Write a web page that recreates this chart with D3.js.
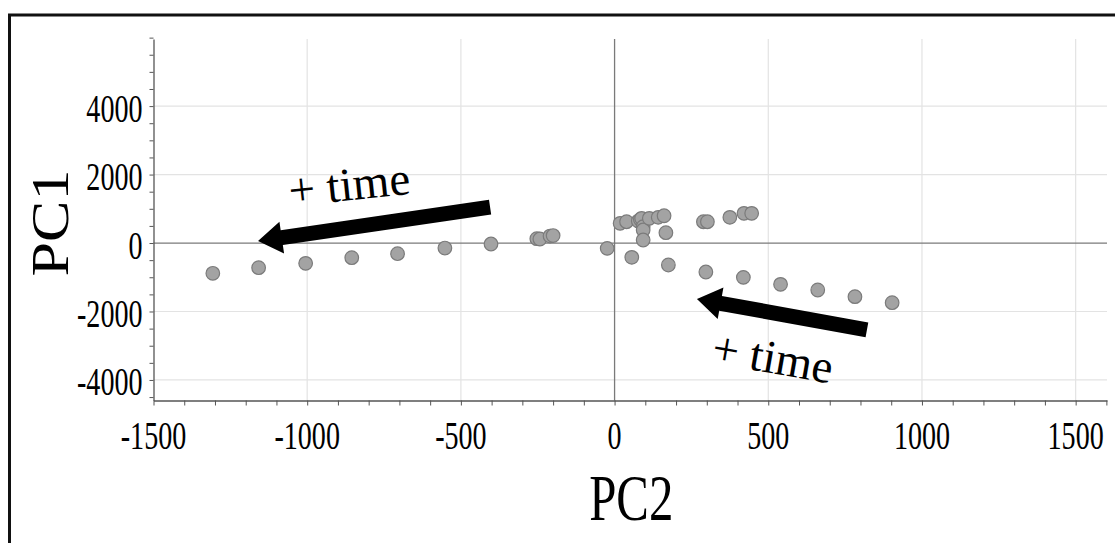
<!DOCTYPE html>
<html>
<head>
<meta charset="utf-8">
<script src="https://cdn.jsdelivr.net/npm/d3@7"></script>
<style>
  html, body { margin: 0; padding: 0; background: #fff; }
  svg { display: block; }
</style>
</head>
<body>
<svg id="chart" width="1115" height="543"></svg>
<script>
// Data -----------------------------------------------------------
// PC2 (x) and PC1 (y) scores
const pc2 = [-1307, -1158, -1005, -855, -706, -552, -402, -253, -243, -210, -200,
  -24, 18, 39, 77, 84, 88, 93, 93, 93, 113, 142, 161, 167,
  56, 175, 297, 419, 540, 661, 782, 903,
  289, 302, 375, 421, 446];
const pc1 = [-885, -721, -593, -429, -312, -146, -29, 126, 117, 204, 219,
  -156, 575, 622, 642, 690, 721, 476, 380, 88, 721, 750, 797, 301,
  -418, -642, -847, -1003, -1207, -1372, -1567, -1743,
  622, 622, 750, 867, 867];

const xTicks = [-1500, -1000, -500, 0, 500, 1000, 1500];
const yTicks = [-4000, -2000, 0, 2000, 4000];

// annotation arrows (tail -> tip, data units) and labels
const arrows = [
  { from: [-405, 1051], to: [-1160, 58] },
  { from: [821, -2540], to: [268, -1635] }
];
const notes = [
  { text: "+ time", at: [-858, 1255], angle: -6 },
  { text: "+ time", at: [506, -3796], angle: 10 }
];
// ------------------------------------------------------------

const svg = d3.select("#chart");
const serif = "'Liberation Serif', 'Times New Roman', serif";
const squeeze = 0.72; // the original picture is narrowed horizontally

const plotLeft = 153.5, plotRight = 1107, plotTop = 39, plotBottom = 400.5;

const x = d3.scaleLinear().domain([-1500, 1602]).range([plotLeft, plotRight]);
const y = d3.scaleLinear().domain([-4600, 5960]).range([plotBottom, plotTop]);

// Outer frame
svg.append("path")
  .attr("d", "M9.5,560V15H1125")
  .attr("fill", "none")
  .attr("stroke", "#111")
  .attr("stroke-width", 3);

// Grid lines
const grid = svg.append("g");
grid.selectAll(".gx")
  .data(xTicks.filter(d => d !== 0 && d !== -1500))
  .join("line")
  .attr("x1", d => x(d)).attr("x2", d => x(d))
  .attr("y1", plotTop).attr("y2", plotBottom)
  .attr("stroke", "#e3e3e3").attr("stroke-width", 1.2);
grid.selectAll(".gy")
  .data(yTicks.filter(d => d !== 0))
  .join("line")
  .attr("x1", plotLeft).attr("x2", plotRight)
  .attr("y1", d => y(d)).attr("y2", d => y(d))
  .attr("stroke", "#e3e3e3").attr("stroke-width", 1.2);

// Zero lines
svg.append("line")
  .attr("x1", x(0)).attr("x2", x(0)).attr("y1", plotTop).attr("y2", plotBottom)
  .attr("stroke", "#7a7a7a").attr("stroke-width", 1.3);
svg.append("line")
  .attr("x1", plotLeft).attr("x2", plotRight).attr("y1", y(0)).attr("y2", y(0))
  .attr("stroke", "#7a7a7a").attr("stroke-width", 1.3);

// Axes
const minorX = d3.range(-1500, 1601, 100);
const minorY = d3.range(-4500, 6001, 500);

const xAxis = svg.append("g")
  .attr("transform", `translate(0,${plotBottom})`)
  .call(d3.axisBottom(x).tickValues(minorX).tickSize(5).tickSizeOuter(0).tickFormat(""));
const yAxis = svg.append("g")
  .attr("transform", `translate(${plotLeft},0)`)
  .call(d3.axisLeft(y).tickValues(minorY).tickSize(4).tickSizeOuter(0).tickFormat(""));

[xAxis, yAxis].forEach(a => {
  a.select(".domain").attr("stroke", "#555").attr("stroke-width", 1.3);
  a.selectAll(".tick line").attr("stroke", "#555");
});

// Tick labels
svg.append("g").selectAll("text")
  .data(xTicks)
  .join("text")
  .attr("transform", d => `translate(${x(d)},${plotBottom + 48}) scale(${squeeze},1)`)
  .attr("text-anchor", "middle")
  .attr("font-family", serif)
  .attr("font-size", 39)
  .attr("fill", "#000")
  .text(d => String(d));

svg.append("g").selectAll("text")
  .data(yTicks)
  .join("text")
  .attr("transform", d => `translate(${plotLeft - 11},${y(d) + 15.5}) scale(${squeeze},1)`)
  .attr("text-anchor", "end")
  .attr("font-family", serif)
  .attr("font-size", 39)
  .attr("fill", "#000")
  .text(d => String(d));

// Axis titles
svg.append("text")
  .attr("transform", `translate(${(plotLeft + plotRight) / 2 + 1},520) scale(0.74,1)`)
  .attr("text-anchor", "middle")
  .attr("font-family", serif)
  .attr("font-size", 66)
  .text("PC2");

svg.append("text")
  .attr("transform", `translate(68,223) scale(0.86,1) rotate(-90)`)
  .attr("text-anchor", "middle")
  .attr("font-family", serif)
  .attr("font-size", 62)
  .text("PC1");

// Points
svg.append("g").selectAll("circle")
  .data(d3.zip(pc2, pc1))
  .join("circle")
  .attr("cx", d => x(d[0]))
  .attr("cy", d => y(d[1]))
  .attr("r", 6.8)
  .attr("fill", "#a3a3a3")
  .attr("stroke", "#7b7b7b")
  .attr("stroke-width", 1.2);

// Arrows
function arrowPath(a) {
  const x0 = x(a.from[0]), y0 = y(a.from[1]);
  const x1 = x(a.to[0]), y1 = y(a.to[1]);
  const len = Math.hypot(x1 - x0, y1 - y0);
  const ux = (x1 - x0) / len, uy = (y1 - y0) / len;
  const nx = -uy, ny = ux;
  const w = 7.5, hw = 16, hl = 24;
  const bx = x1 - ux * hl, by = y1 - uy * hl;
  const pts = [
    [x0 + nx * w, y0 + ny * w],
    [bx + nx * w, by + ny * w],
    [bx + nx * hw, by + ny * hw],
    [x1, y1],
    [bx - nx * hw, by - ny * hw],
    [bx - nx * w, by - ny * w],
    [x0 - nx * w, y0 - ny * w]
  ];
  return "M" + pts.map(p => p.join(",")).join("L") + "Z";
}

svg.append("g").selectAll("path")
  .data(arrows)
  .join("path")
  .attr("d", arrowPath)
  .attr("fill", "#000");

svg.append("g").selectAll("text")
  .data(notes)
  .join("text")
  .attr("transform", d => `translate(${x(d.at[0])},${y(d.at[1])}) rotate(${d.angle})`)
  .attr("text-anchor", "middle")
  .attr("font-family", serif)
  .attr("font-size", 47)
  .attr("fill", "#000")
  .text(d => d.text);
</script>
</body>
</html>
